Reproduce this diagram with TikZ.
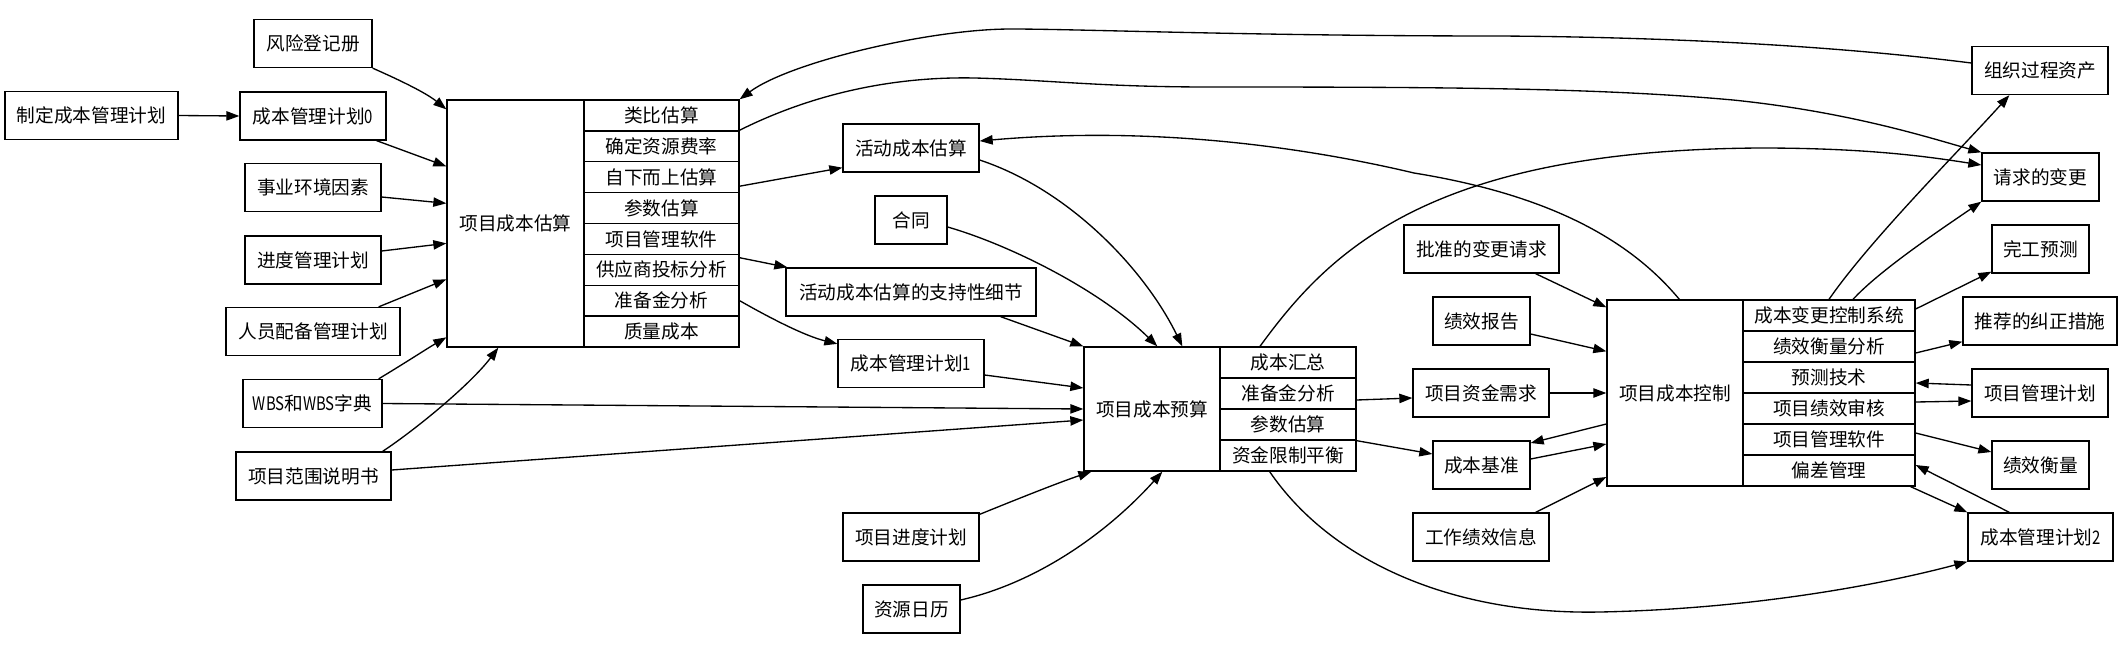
\documentclass[tikz,border=0pt]{standalone}
\usepackage{fontspec}
\usepackage{graphicx}
\newfontfamily\cjkf{Noto Sans CJK SC}
\newcommand{\cnd}[1]{\scalebox{0.8}[1]{#1}}
\usetikzlibrary{arrows.meta,calc}
\tikzset{
  box/.style={draw, line width=1pt, inner sep=0pt, minimum height=36pt, font=\cjkf\fontsize{14pt}{16pt}\selectfont},
  cell/.style={draw, line width=1pt, inner sep=0pt, font=\cjkf\fontsize{14pt}{16pt}\selectfont},
  whole/.style={inner sep=0pt, outer sep=0.5pt},
  arr/.style={line width=1pt, -{Triangle[length=9.75pt,width=7pt]}}
}
\begin{document}
\begin{tikzpicture}[x=0.75pt,y=-0.75pt]
\useasboundingbox (0,0) rectangle (2124,650);
\fill[white] (0,0) rectangle (2124,650);
% left column
\node[box, minimum width=129.75pt] (src) at (91.5,115.5) {制定成本管理计划};
\node[box, minimum width=109.5pt] (cmp0) at (313,116) {成本管理计划\cnd{0}};
\node[box, minimum width=88.5pt] (risk) at (313,43.5) {风险登记册};
\node[box, minimum width=102pt] (eef) at (313,187.5) {事业环境因素};
\node[box, minimum width=102pt] (sched) at (313,260) {进度管理计划};
\node[box, minimum width=130.5pt] (staff) at (313,331.5) {人员配备管理计划};
\node[box, minimum width=104.25pt] (wbs) at (312.5,403.5) {\cnd{WBS}和\cnd{WBS}字典};
\node[box, minimum width=116.25pt] (scope) at (313.5,476) {项目范围说明书};
% estimate record
\node[whole, minimum width=219pt, minimum height=185.25pt] (est) at (593,223.5) {};
\node[cell, minimum width=102.75pt, minimum height=185.25pt] (estL) at (515.5,223.5) {项目成本估算};
\foreach \i/\t in {1/类比估算,2/确定资源费率,3/自下而上估算,4/参数估算,5/项目管理软件,6/供应商投标分析,7/准备金分析,8/质量成本}{
  \node[cell, minimum width=116.25pt, minimum height=23.156pt] (est\i) at (661.5,{100+30.875*(\i-0.5)}) {\t};
}
% middle column
\node[box, minimum width=102pt] (ace) at (911,148) {活动成本估算};
\node[box, minimum width=54pt] (contract) at (911,220) {合同};
\node[box, minimum width=187.5pt] (support) at (911,292) {活动成本估算的支持性细节};
\node[box, minimum width=109.5pt] (cmp1) at (911,363.5) {成本管理计划\cnd{1}};
\node[box, minimum width=102pt] (psched) at (911,537) {项目进度计划};
\node[box, minimum width=72.75pt] (cal) at (911.5,609) {资源日历};
% budget record
\node[whole, minimum width=204pt, minimum height=93pt] (budget) at (1220,409) {};
\node[cell, minimum width=102pt, minimum height=93pt] (budgetL) at (1152,409) {项目成本预算};
\foreach \i/\t in {1/成本汇总,2/准备金分析,3/参数估算,4/资金限制平衡}{
  \node[cell, minimum width=102pt, minimum height=23.25pt] (budget\i) at (1288,{347+31*(\i-0.5)}) {\t};
}
% middle-right column
\node[box, minimum width=116.25pt] (approved) at (1481.5,249) {批准的变更请求};
\node[box, minimum width=72.75pt] (perfrep) at (1481.5,321) {绩效报告};
\node[box, minimum width=102pt] (funding) at (1481,393) {项目资金需求};
\node[box, minimum width=72.75pt] (baseline) at (1481.5,465) {成本基准};
\node[box, minimum width=102pt] (wpi) at (1481,537) {工作绩效信息};
% control record
\node[whole, minimum width=231pt, minimum height=139.5pt] (control) at (1761,393) {};
\node[cell, minimum width=102pt, minimum height=139.5pt] (controlL) at (1675,393) {项目成本控制};
\foreach \i/\t in {1/成本变更控制系统,2/绩效衡量分析,3/预测技术,4/项目绩效审核,5/项目管理软件,6/偏差管理}{
  \node[cell, minimum width=129pt, minimum height=23.25pt] (control\i) at (1829,{300+31*(\i-0.5)}) {\t};
}
% right column
\node[box, minimum width=102pt] (opa) at (2040,70.5) {组织过程资产};
\node[box, minimum width=87.75pt] (changes) at (2040.5,177) {请求的变更};
\node[box, minimum width=72.75pt] (eac) at (2040.5,249) {完工预测};
\node[box, minimum width=115.5pt] (corrective) at (2040,321) {推荐的纠正措施};
\node[box, minimum width=102pt] (pmp) at (2040,393) {项目管理计划};
\node[box, minimum width=72.75pt] (perfmeas) at (2040.5,465) {绩效衡量};
\node[box, minimum width=108.75pt] (cmp2) at (2040.5,537) {成本管理计划\cnd{2}};

% edges into estimate
\draw[arr] (src.east) -- (cmp0.west);
\draw[arr] (risk.south east) .. controls (395,78) and (425,92) .. ($(est.north west)+(0,10)$);
\draw[arr] ($(cmp0.south east)+(-10,0)$) -- ($(est.north west)+(0,67)$);
\draw[arr] ($(eef.east)+(0,9.5)$) -- ($(est.north west)+(0,104)$);
\draw[arr] ($(sched.east)+(0,-9)$) -- ($(est.north west)+(0,144)$);
\draw[arr] ($(staff.north east)+(-22,0)$) -- ($(est.north west)+(0,180)$);
\draw[arr] ($(wbs.north east)+(-4,0)$) .. controls (405,363) and (428,348) .. ($(est.north west)+(0,238)$);
\draw[arr] ($(scope.north east)+(-9,0)$) .. controls (415,430) and (470,385) .. ($(est.south west)+(52,0)$);
\draw[arr] (wbs.east) -- (budget.west);
\draw[arr] ($(scope.east)+(0,-6)$) -- ($(budget.west)+(0,11)$);
% estimate outputs
\draw[arr] ($(est3.east)+(0,9)$) -- ($(ace.south west)+(0,-5)$);
\draw[arr] ($(est6.north east)+(0,4)$) -- ($(support.north west)+(2,0)$);
\draw[arr] (est7.east) .. controls (770,318) and (805,336) .. ($(cmp1.north west)+(0,5)$);
\draw[arr] (est2.north east) .. controls (800,100) and (880,76) .. (975,78) .. controls (1050,80) and (1100,87) .. (1210,87) .. controls (1450,87) and (1600,88) .. (1733,100) .. controls (1850,112) and (1930,138) .. (changes.north west);
\draw[arr] ($(opa.west)+(0,-7.5)$) .. controls (1820,44) and (1650,37) .. (1500,36) .. controls (1250,36) and (1080,29) .. (1011,29) .. controls (930,29) and (790,62) .. (est.north east);
% into budget
\draw[arr] ($(ace.east)+(0,12)$) .. controls (1070,190) and (1145,270) .. ($(budget.north west)+(99,0)$);
\draw[arr] ($(contract.east)+(0,7)$) .. controls (1010,245) and (1100,290) .. ($(budget.north west)+(74,0)$);
\draw[arr] ($(support.south east)+(-36,0)$) -- (budget.north west);
\draw[arr] ($(cmp1.east)+(0,11.5)$) -- ($(budget.west)+(0,-21)$);
\draw[arr] ($(psched.north east)+(0,2)$) .. controls (1015,500) and (1060,482) .. ($(budget.south west)+(8,0)$);
\draw[arr] ($(cal.east)+(0,-9)$) .. controls (1040,582) and (1110,530) .. ($(budget.south west)+(79,0)$);
% budget outputs
\draw[arr] ($(budget2.east)+(0,6.5)$) -- ($(funding.west)+(0,5)$);
\draw[arr] (budget3.south east) -- ($(baseline.west)+(0,-11)$);
\draw[arr] ($(budget1.north)+(-28,0)$) .. controls (1330,250) and (1430,150) .. (1760,148) .. controls (1870,148) and (1930,157) .. ($(changes.west)+(0,-12)$);
\draw[arr] ($(budget.south east)+(-87,0)$) .. controls (1330,560) and (1450,615) .. (1600,612) .. controls (1750,609) and (1880,585) .. (cmp2.south west);
% into control
\draw[arr] ($(approved.south east)+(-24,0)$) -- ($(control.north west)+(0,8)$);
\draw[arr] ($(perfrep.east)+(0,13)$) -- ($(control.north west)+(0,52)$);
\draw[arr] (funding.east) -- (control.west);
\draw[arr] ($(control.west)+(0,31)$) -- ($(baseline.east)+(0,-22)$);
\draw[arr] ($(baseline.east)+(0,-6)$) -- ($(control.west)+(0,51)$);
\draw[arr] ($(wpi.north east)+(-14,0)$) -- ($(control.west)+(0,84)$);
% control outputs
\draw[arr] ($(control.north west)+(73,0)$) .. controls (1630,240) and (1550,195) .. (1414,173) .. controls (1300,146) and (1150,126) .. ($(ace.east)+(0,-7)$);
\draw[arr] (control1.north) .. controls (1870,240) and (1960,150) .. ($(opa.south west)+(38,0)$);
\draw[arr] ($(control1.north)+(24,0)$) .. controls (1880,270) and (1940,230) .. (changes.south west);
\draw[arr] ($(control1.east)+(0,-6.5)$) -- ($(eac.south west)+(0,-2)$);
\draw[arr] ($(control2.east)+(0,6.5)$) -- ($(corrective.south west)+(0,-4)$);
\draw[arr] ($(pmp.west)+(0,-8)$) -- ($(control3.east)+(0,5.5)$);
\draw[arr] ($(control4.east)+(0,-6.5)$) -- ($(pmp.west)+(0,8)$);
\draw[arr] ($(control5.east)+(0,-6.5)$) -- ($(perfmeas.west)+(0,-13)$);
\draw[arr] ($(cmp2.north west)+(42,0)$) -- ($(control6.east)+(0,-5.5)$);
\draw[arr] ($(control.south east)+(-5,0)$) -- (cmp2.north west);
\end{tikzpicture}
\end{document}
